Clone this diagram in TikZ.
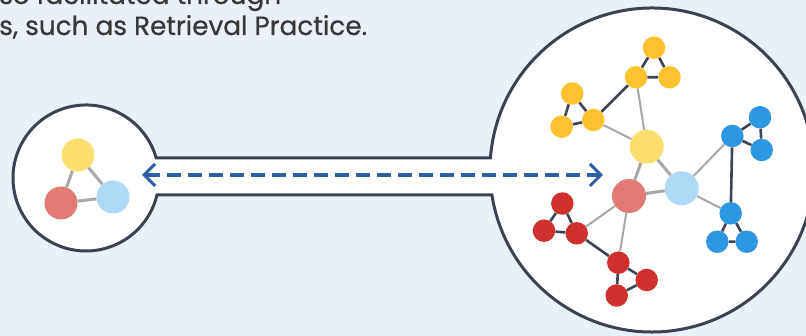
\documentclass[tikz,border=0pt]{standalone}
\usepackage{fontspec}
\setmainfont{Poppins}
\newfontfamily\txtfont[FakeBold=0.6]{Poppins}
\usetikzlibrary{arrows.meta}
\definecolor{bgc}{HTML}{EAF0F8}
\definecolor{outl}{HTML}{3B4252}
\definecolor{yl}{HTML}{FDDD6E}
\definecolor{yd}{HTML}{FDC22D}
\definecolor{rl}{HTML}{E27A76}
\definecolor{rd}{HTML}{D0302C}
\definecolor{bl}{HTML}{AEDAF8}
\definecolor{bd}{HTML}{2D97E2}
\definecolor{gedge}{HTML}{A8A8A8}
\definecolor{dedge}{HTML}{3C4456}
\definecolor{arr}{HTML}{2F5DA6}
\definecolor{txt}{HTML}{383838}
\begin{document}
\begin{tikzpicture}[x=1pt,y=1pt,
  big/.style={circle,inner sep=0pt,minimum size=34pt},
  small/.style={circle,inner sep=0pt,minimum size=22.5pt},
  lft/.style={circle,inner sep=0pt,minimum size=33pt},
  gline/.style={draw=gedge,line width=2pt},
  gthick/.style={draw=gedge,line width=3pt},
  dline/.style={draw=dedge,line width=2.6pt},
  txtstyle/.style={text=txt,font=\txtfont\fontsize{26.3}{30}\selectfont,inner sep=0pt,anchor=base west}]
\useasboundingbox (0,0) rectangle (806,336);
\clip (0,0) rectangle (806,336);
\fill[bgc] (0,0) rectangle (806,336);
% text
\node[txtstyle] (t1) at (-1,332) {so facilitated through};
\node[txtstyle] (t2) at (-1,301) {s, such as Retrieval Practice.};
% outline shape
\coordinate (L) at (86,158);
\coordinate (B) at (652,166);
\draw[fill=white,draw=outl,line width=3pt]
  ([shift={(15.9:73)}]L) arc[start angle=15.9,end angle=346.53,radius=73]
  -- ([shift={(188.88:162)}]B) arc[start angle=188.88,end angle=535.75,radius=162]
  -- cycle;
% left graph
\node[lft,fill=yl] (ly) at (78,181) {};
\node[lft,fill=rl] (lr) at (61,133) {};
\node[lft,fill=bl] (lb) at (113,139) {};
\draw[gthick] (ly) -- (lr) (ly) -- (lb) (lr) -- (lb);
% arrow
\coordinate (a1) at (142,161);
\coordinate (a2) at (603,161);
\draw[arr,line width=3.2pt,dash pattern=on 14pt off 7pt,
  {Straight Barb[length=11pt,width=22pt,line width=3pt]}-{Straight Barb[length=11pt,width=22pt,line width=3pt]}] (a1) -- (a2);
% big graph centre
\node[big,fill=yl] (cy) at (646.7,189.3) {};
\node[big,fill=rl] (cr) at (629,140) {};
\node[big,fill=bl] (cb) at (681.7,147.7) {};
\draw[gthick] (cy) -- (cr) (cy) -- (cb) (cr) -- (cb);
% yellow cluster
\node[small,fill=yd] (y1) at (654,288.3) {};
\node[small,fill=yd] (y2) at (636,258.7) {};
\node[small,fill=yd] (y3) at (669.5,258.7) {};
\node[small,fill=yd] (y4) at (572.2,242.5) {};
\node[small,fill=yd] (y5) at (561.7,209.3) {};
\node[small,fill=yd] (y6) at (593.3,216) {};
\draw[dline] (y1) -- (y2) (y1) -- (y3) (y2) -- (y3)
  (y4) -- (y5) (y4) -- (y6) (y5) -- (y6) (y6) -- (y2);
\draw[gline] (y2) -- (cy) (y6) -- (cy);
% blue cluster
\node[small,fill=bd] (b1) at (760,218.7) {};
\node[small,fill=bd] (b2) at (732.3,200) {};
\node[small,fill=bd] (b3) at (761.7,186) {};
\node[small,fill=bd] (b4) at (730.7,122.7) {};
\node[small,fill=bd] (b5) at (717.3,94.3) {};
\node[small,fill=bd] (b6) at (746.7,94.3) {};
\draw[dline] (b1) -- (b2) (b1) -- (b3) (b2) -- (b3)
  (b4) -- (b5) (b4) -- (b6) (b5) -- (b6) (b2) -- (b4);
\draw[gline] (cb) -- (b2) (cb) -- (b4);
% red cluster
\node[small,fill=rd] (r1) at (562.3,132.5) {};
\node[small,fill=rd] (r2) at (544,105.3) {};
\node[small,fill=rd] (r3) at (576.7,102.7) {};
\node[small,fill=rd] (r4) at (618.3,73.3) {};
\node[small,fill=rd] (r5) at (646.7,56) {};
\node[small,fill=rd] (r6) at (616.7,40.5) {};
\draw[dline] (r1) -- (r2) (r1) -- (r3) (r2) -- (r3)
  (r4) -- (r5) (r4) -- (r6) (r5) -- (r6) (r3) -- (r4);
\draw[gline] (cr) -- (r3) (cr) -- (r4);
\end{tikzpicture}
\end{document}
